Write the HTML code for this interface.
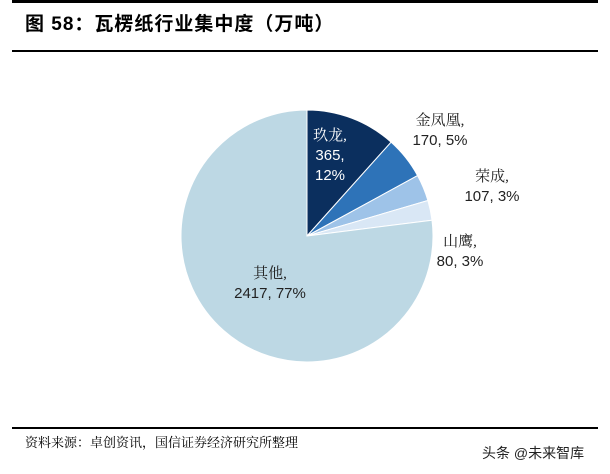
<!DOCTYPE html>
<html><head><meta charset="utf-8"><style>
body{margin:0;width:610px;height:474px;background:#fff;overflow:hidden;position:relative;font-family:"Liberation Sans","Noto Sans CJK SC",sans-serif;}
.t{position:absolute;white-space:nowrap;}
</style></head><body>
<div style="position:absolute;left:12px;top:0;width:586px;height:3px;background:#000"></div>
<div class="t" style="left:25px;top:9px;font-size:19px;font-weight:bold;letter-spacing:1px;font-family:'Liberation Sans','Noto Sans CJK SC',sans-serif">图 58：瓦楞纸行业集中度（万吨）</div>
<div style="position:absolute;left:12px;top:50px;width:586px;height:1.5px;background:#000"></div>
<svg id="pie" width="610" height="474" style="position:absolute;left:0;top:0"></svg>
<div style="position:absolute;left:12px;top:427px;width:586px;height:2px;background:#000"></div>
<div class="t" style="left:25px;top:432px;font-size:13px;font-family:'Liberation Serif','Noto Serif CJK SC',serif">资料来源：卓创资讯，国信证券经济研究所整理</div>
<div class="t" style="left:482px;top:443px;font-size:14px;color:#222">头条 @未来智库</div>
<script>
const categories=["玖龙","金凤凰","荣成","山鹰","其他"];
const values=[365,170,107,80,2417];
const percents=["12%","5%","3%","3%","77%"];
const colors=["#0b2f5e","#2e73b8","#9ec3e8","#d9e7f5","#bdd8e4"];
const labelPos=[[330,140],[440,125],[492,181],[460,246],[270,278]];
const labelColor=["#fff","#222","#222","#222","#222"];
const NS="http://www.w3.org/2000/svg";
const svg=document.getElementById('pie');
const cx=307,cy=236,r=126;
const total=values.reduce((a,b)=>a+b,0);
let a0=0;
values.forEach((v,i)=>{
  const a1=a0+v/total*2*Math.PI;
  const x0=cx+r*Math.sin(a0),y0=cy-r*Math.cos(a0),x1=cx+r*Math.sin(a1),y1=cy-r*Math.cos(a1);
  const p=document.createElementNS(NS,'path');
  p.setAttribute('d',`M${cx},${cy}L${x0},${y0}A${r},${r} 0 ${a1-a0>Math.PI?1:0} 1 ${x1},${y1}Z`);
  p.setAttribute('fill',colors[i]);p.setAttribute('stroke','#fff');p.setAttribute('stroke-width','1');
  
  
  svg.appendChild(p);
  a0=a1;
});
categories.forEach((c,i)=>{
  const [x,y]=labelPos[i];
  const lines=i===0?[c+",",values[i]+",",percents[i]]:[c+",",values[i]+", "+percents[i]];
  lines.forEach((s,j)=>{
    const t=document.createElementNS(NS,'text');
    t.setAttribute('x',x);t.setAttribute('y',y+j*20);
    t.setAttribute('text-anchor','middle');t.setAttribute('font-size','15');
    t.setAttribute('fill',labelColor[i]);
    t.setAttribute('font-family',j===0?'"Liberation Serif","Noto Serif CJK SC",serif':'"Liberation Sans",sans-serif');
    t.textContent=s;
    
    
    svg.appendChild(t);
  });
});
</script>
</body></html>
